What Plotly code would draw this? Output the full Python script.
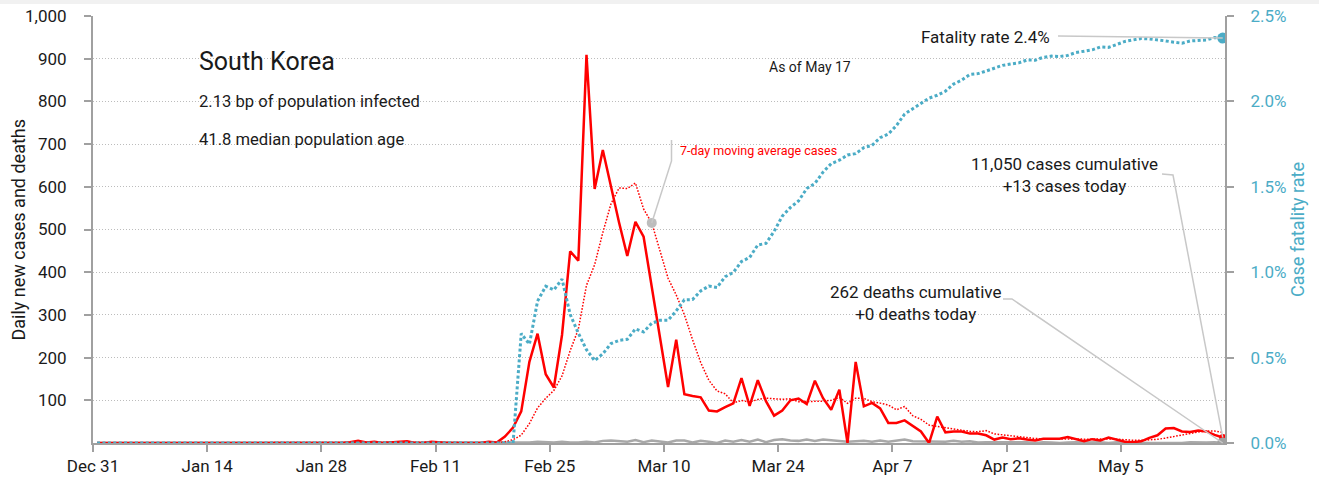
import pandas as pd
import plotly.graph_objects as go

# Daily figures, one row per week starting Tue Dec 31 2019
daily_cases = [
    0, 0, 0, 0, 0, 0, 0,
    0, 0, 0, 0, 0, 0, 0,
    0, 0, 0, 0, 0, 0, 0,
    1, 0, 0, 0, 1, 0, 1,
    1, 0, 0, 2, 5, 1, 3,
    0, 1, 3, 4, 0, 0, 3,
    1, 0, 0, 0, 0, 0, 3,
    1, 15, 36, 74, 190, 256, 161,
    130, 253, 449, 427, 909, 595, 686,
    600, 516, 438, 518, 483, 367, 248,
    131, 242, 114, 110, 107, 76, 74,
    84, 93, 152, 87, 147, 98, 64,
    76, 100, 104, 91, 146, 105, 78,
    125, 0, 190, 86, 94, 81, 47,
    47, 53, 39, 27, 0, 62, 25,
    27, 27, 22, 22, 18, 8, 13,
    9, 11, 8, 6, 10, 10, 10,
    14, 9, 4, 9, 6, 13, 8,
    3, 2, 4, 12, 18, 34, 35,
    27, 26, 29, 27, 19, 13,
]
daily_deaths = [0] * 49 + [
    0, 0, 0, 1, 1, 3, 2,
    1, 3, 1, 1, 3, 1, 5,
    6, 4, 3, 7, 2, 6, 3,
    1, 6, 6, 1, 5, 3, 0,
    6, 3, 7, 3, 8, 2, 7,
    9, 6, 5, 8, 5, 8, 6,
    4, 3, 4, 5, 3, 6, 3,
    6, 8, 4, 4, 3, 3, 3,
    5, 3, 4, 1, 2, 2, 2,
    1, 1, 2, 0, 2, 1, 0,
    1, 2, 1, 1, 2, 0, 2,
    2, 1, 1, 0, 0, 0, 0,
    0, 2, 1, 1, 2, 0,
]

START = pd.Timestamp("2019-12-31")
END = pd.Timestamp("2020-05-17")
tick_dates = pd.date_range(START, "2020-05-05", freq="14D")
left_ticks = list(range(100, 1001, 100))
right_ticks = [0, 0.005, 0.01, 0.015, 0.02, 0.025]

RED = "#ff0000"
BLUE = "#4bacc6"
GREY = "#a8a8a8"
TEXT = "#1a1a1a"
FONT = "Roboto, Liberation Sans, sans-serif"

# each day is drawn at noon
dates = pd.date_range(START, END, freq="D") + pd.Timedelta(hours=12)
cases = pd.Series(daily_cases, index=dates, dtype=float)
deaths = pd.Series(daily_deaths, index=dates, dtype=float)
ma7 = cases.rolling(7).mean()
cfr = (deaths.cumsum() / cases.cumsum()).fillna(0)

x_range = [START, END + pd.Timedelta(hours=18, minutes=40)]
Y_MAX = 1000
Y2_MAX = 0.025


def xp(ts):
    return (ts - x_range[0]) / (x_range[1] - x_range[0])


# plot area in pixels: left 93, right 1225, top 16, bottom 443
def px(x):
    return (x - 93) / 1132


def py(y):
    return (443 - y) / 427


fig = go.Figure()
fig.add_trace(go.Scatter(x=dates, y=deaths, mode="lines", line=dict(color=GREY, width=2.5)))
fig.add_trace(go.Scatter(x=dates, y=cfr, yaxis="y2", mode="lines",
                         line=dict(color=BLUE, width=3, dash="3px,2.4px")))
fig.add_trace(go.Scatter(x=dates, y=ma7, mode="lines",
                         line=dict(color=RED, width=1.5, dash="1.6px,1.6px")))
fig.add_trace(go.Scatter(x=dates, y=cases, mode="lines", line=dict(color=RED, width=2.5)))

# end-point and label markers
ma_pt = pd.Timestamp("2020-03-08 12:00")
fig.add_trace(go.Scatter(x=[ma_pt], y=[ma7[ma_pt]], mode="markers",
                         marker=dict(color="#bdbdbd", size=10)))
fig.add_trace(go.Scatter(x=[dates[-1]], y=[cases.iloc[-1]], mode="markers",
                         marker=dict(color=RED, size=7)))
fig.add_trace(go.Scatter(x=[dates[-1]], y=[deaths.iloc[-1]], mode="markers",
                         marker=dict(color="#a0a0a0", size=11)))
fig.add_trace(go.Scatter(x=[dates[-1]], y=[cfr.iloc[-1]], yaxis="y2", mode="markers",
                         marker=dict(color=BLUE, size=11)))

axis_line = dict(showline=True, linecolor="#a0a0a0", linewidth=2, ticks="outside",
                 ticklen=7, tickcolor="#a0a0a0", tickwidth=1.5, automargin=False)

fig.update_layout(
    width=1319,
    height=484,
    margin=dict(l=93, r=94, t=16, b=41, autoexpand=False),
    paper_bgcolor="white",
    plot_bgcolor="white",
    showlegend=False,
    font=dict(family=FONT, size=17, color=TEXT),
    xaxis=dict(
        type="date", range=x_range, tickvals=tick_dates, tickformat="%b %-d",
        showgrid=False, zeroline=False, tickfont=dict(size=17), **axis_line,
    ),
    yaxis=dict(
        range=[0, Y_MAX], tickvals=left_ticks, tickformat=",", zeroline=False,
        showgrid=True, gridcolor="#bcbcbc", griddash="1.3px,1.7px", gridwidth=1,
        ticklabelstandoff=14, **axis_line,
    ),
    yaxis2=dict(
        overlaying="y", side="right", range=[0, Y2_MAX], tickvals=right_ticks,
        tickformat=".1%", showgrid=False, zeroline=False,
        tickfont=dict(color=BLUE, size=17),
        title=dict(text="Case fatality rate", font=dict(color=BLUE, size=18), standoff=6),
        ticklabelstandoff=13, **axis_line,
    ),
)

# light band along the top edge
fig.add_shape(type="rect", xref="paper", yref="paper", x0=px(0), x1=px(1319),
              y0=py(4), y1=py(0), fillcolor="#f1f1f1", line=dict(width=0), layer="below")

# left axis title, placed by hand so it sits where the original does
fig.add_annotation(text="Daily new cases and deaths", x=px(18), y=0.5, xref="paper", yref="paper",
                   textangle=-90, xanchor="center", yanchor="middle", showarrow=False,
                   font=dict(size=18, color=TEXT))

# text blocks
notes = [
    ("South Korea", 197, 61, 25, TEXT, "left"),
    ("2.13 bp of population infected", 197, 101, 16.6, TEXT, "left"),
    ("41.8 median population age", 197, 139, 16.6, TEXT, "left"),
    ("As of May 17", 810, 67, 14, TEXT, "center"),
    ("7-day moving average cases", 678, 150, 12.5, RED, "left"),
    ("Fatality rate 2.4%", 1052, 37, 17, TEXT, "right"),
    ("11,050 cases cumulative<br>+13 cases today", 1064, 175, 17, TEXT, "center"),
    ("262 deaths cumulative<br>+0 deaths today", 916, 303, 17, TEXT, "center"),
]
for text, x, y, size, color, anchor in notes:
    fig.add_annotation(text=text, x=px(x), y=py(y), xref="paper", yref="paper",
                       xanchor=anchor, yanchor="middle", align=anchor,
                       showarrow=False, font=dict(size=size, color=color))

# leader lines
lead = dict(color="#c8c8c8", width=1.5)
x_end = xp(dates[-1])
x_ma = xp(ma_pt)
fig.add_shape(type="path", xref="paper", yref="paper", line=lead,
              path=f"M {px(671.5)} {py(140)} L {px(671.5)} {py(161)} L {x_ma} {ma7[ma_pt] / Y_MAX}")
fig.add_shape(type="path", xref="paper", yref="paper", line=lead,
              path=f"M {px(1058)} {py(36)} L {x_end} {cfr.iloc[-1] / Y2_MAX}")
fig.add_shape(type="path", xref="paper", yref="paper", line=lead,
              path=f"M {px(1162)} {py(174)} L {px(1173)} {py(175)} L {x_end} {cases.iloc[-1] / Y_MAX}")
fig.add_shape(type="path", xref="paper", yref="paper", line=lead,
              path=f"M {px(1003)} {py(299)} L {px(1012)} {py(299)} L {x_end} {deaths.iloc[-1] / Y_MAX}")

fig.write_html("out.html", config={"displayModeBar": False},
               post_script="document.body.style.margin='0';")
